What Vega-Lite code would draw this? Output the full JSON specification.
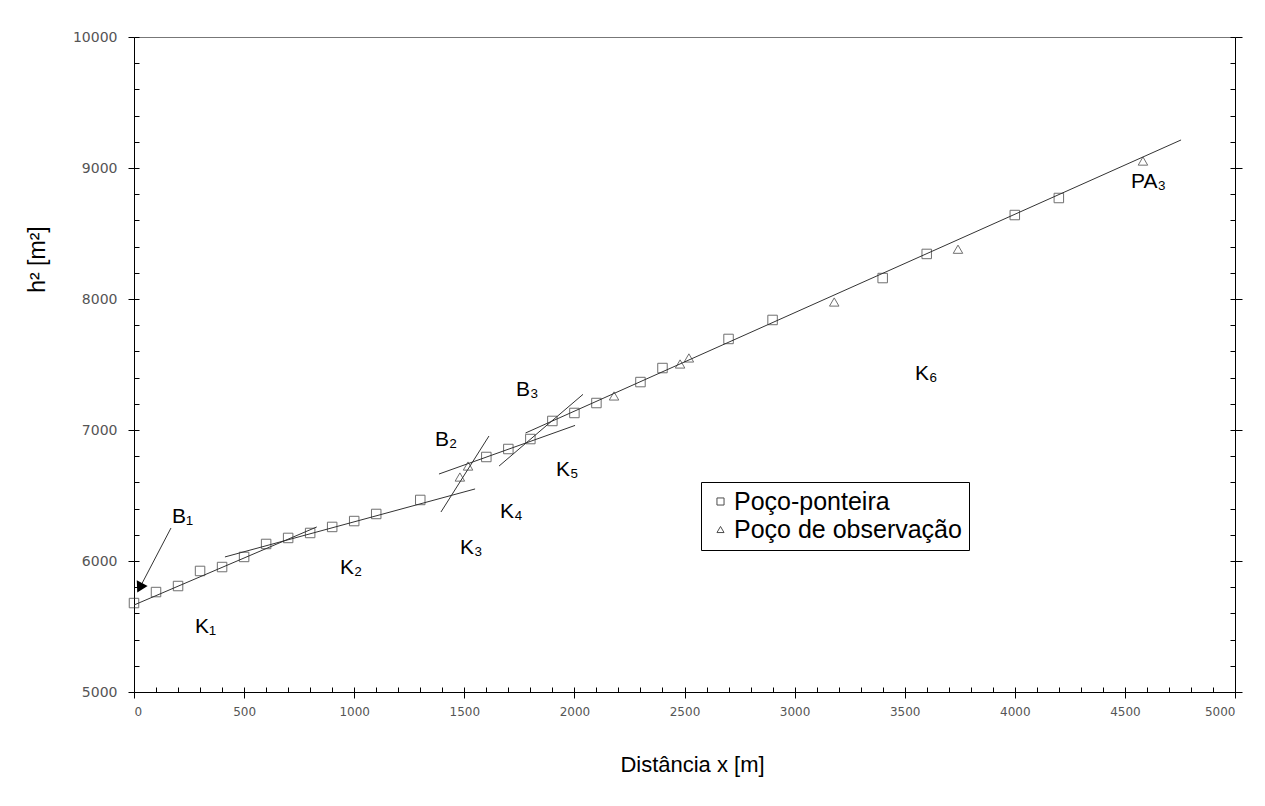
{
  "$schema": "https://vega.github.io/schema/vega-lite/v6.json",
  "width": 1101,
  "height": 655,
  "autosize": {"type": "none"},
  "padding": {"left": 134, "top": 37, "right": 30, "bottom": 114},
  "background": "white",
  "config": {
    "view": {"stroke": null},
    "axis": {"grid": false, "domainColor": "#000", "tickColor": "#000", "labelFont": "DejaVu Sans", "labelColor": "#555", "labelFontSize": 12, "titleFont": "Liberation Sans", "titleFontWeight": "normal", "titleColor": "#000", "format": "d"}
  },
  "datasets": {
    "segs": [
      {"seg": "K1", "x": 0, "y": 5664}, {"seg": "K1", "x": 830, "y": 6260},
      {"seg": "K2", "x": 413, "y": 6031}, {"seg": "K2", "x": 1549, "y": 6550},
      {"seg": "K3", "x": 1394, "y": 6374}, {"seg": "K3", "x": 1612, "y": 6954},
      {"seg": "K4", "x": 1385, "y": 6664}, {"seg": "K4", "x": 2003, "y": 7035},
      {"seg": "B3", "x": 1658, "y": 6725}, {"seg": "B3", "x": 2039, "y": 7272},
      {"seg": "K5", "x": 1778, "y": 6977}, {"seg": "K5", "x": 4755, "y": 9214}
    ],
    "pts": [
      {"tipo": "Poço-ponteira", "x": 0, "y": 5679},
      {"tipo": "Poço-ponteira", "x": 100, "y": 5763},
      {"tipo": "Poço-ponteira", "x": 200, "y": 5809},
      {"tipo": "Poço-ponteira", "x": 300, "y": 5924},
      {"tipo": "Poço-ponteira", "x": 400, "y": 5954},
      {"tipo": "Poço-ponteira", "x": 500, "y": 6031},
      {"tipo": "Poço-ponteira", "x": 600, "y": 6130},
      {"tipo": "Poço-ponteira", "x": 700, "y": 6176},
      {"tipo": "Poço-ponteira", "x": 800, "y": 6214},
      {"tipo": "Poço-ponteira", "x": 900, "y": 6260},
      {"tipo": "Poço-ponteira", "x": 1000, "y": 6305},
      {"tipo": "Poço-ponteira", "x": 1100, "y": 6359},
      {"tipo": "Poço-ponteira", "x": 1300, "y": 6466},
      {"tipo": "Poço-ponteira", "x": 1600, "y": 6794},
      {"tipo": "Poço-ponteira", "x": 1700, "y": 6855},
      {"tipo": "Poço-ponteira", "x": 1800, "y": 6931},
      {"tipo": "Poço-ponteira", "x": 1900, "y": 7069},
      {"tipo": "Poço-ponteira", "x": 2000, "y": 7130},
      {"tipo": "Poço-ponteira", "x": 2100, "y": 7206},
      {"tipo": "Poço-ponteira", "x": 2300, "y": 7366},
      {"tipo": "Poço-ponteira", "x": 2400, "y": 7473},
      {"tipo": "Poço-ponteira", "x": 2700, "y": 7695},
      {"tipo": "Poço-ponteira", "x": 2900, "y": 7840},
      {"tipo": "Poço-ponteira", "x": 3400, "y": 8160},
      {"tipo": "Poço-ponteira", "x": 3600, "y": 8344},
      {"tipo": "Poço-ponteira", "x": 4000, "y": 8641},
      {"tipo": "Poço-ponteira", "x": 4200, "y": 8771},
      {"tipo": "Poço de observação", "x": 1480, "y": 6641},
      {"tipo": "Poço de observação", "x": 1517, "y": 6725},
      {"tipo": "Poço de observação", "x": 2180, "y": 7260},
      {"tipo": "Poço de observação", "x": 2480, "y": 7504},
      {"tipo": "Poço de observação", "x": 2520, "y": 7550},
      {"tipo": "Poço de observação", "x": 3180, "y": 7977},
      {"tipo": "Poço de observação", "x": 3742, "y": 8380},
      {"tipo": "Poço de observação", "x": 4582, "y": 9053}
    ],
    "labels": [
      {"label": "B₁", "x": 173, "y": 6336},
      {"label": "K₁", "x": 277, "y": 5496},
      {"label": "K₂", "x": 935, "y": 5947},
      {"label": "K₃", "x": 1480, "y": 6099},
      {"label": "K₄", "x": 1662, "y": 6374},
      {"label": "K₅", "x": 1916, "y": 6695},
      {"label": "B₂", "x": 1367, "y": 6924},
      {"label": "B₃", "x": 1735, "y": 7305},
      {"label": "K₆", "x": 3547, "y": 7427},
      {"label": "PA₃", "x": 4528, "y": 8893}
    ],
    "arrow": [
      {"x": 168, "y": 6252, "x2": 26, "y2": 5795}
    ]
  },
  "resolve": {
    "scale": {"x": "independent", "y": "independent", "shape": "independent"},
    "axis": {"x": "independent", "y": "independent"}
  },
  "layer": [
    {
      "data": {"name": "segs"},
      "mark": {"type": "line", "color": "#333", "strokeWidth": 1},
      "encoding": {
        "x": {"field": "x", "type": "quantitative", "scale": {"domain": [0, 5000], "nice": false, "zero": false},
          "axis": {"orient": "bottom", "values": [0, 500, 1000, 1500, 2000, 2500, 3000, 3500, 4000, 4500, 5000], "tickSize": 6, "labelPadding": 8, "labelFontSize": 12, "title": "Distância x [m]", "titleFontSize": 22, "titleX": 558, "titleY": 79, "titleAlign": "center", "titleBaseline": "alphabetic"}},
        "y": {"field": "y", "type": "quantitative", "scale": {"domain": [5000, 10000], "nice": false, "zero": false},
          "axis": {"orient": "left", "values": [5000, 6000, 7000, 8000, 9000, 10000], "tickSize": 6, "labelPadding": 11, "labelFontSize": 14, "title": "h² [m²]", "titleFontSize": 23, "titleX": -97, "titleY": 222, "titleAlign": "center", "titleBaseline": "middle", "titleAngle": -90}},
        "detail": {"field": "seg"}
      }
    },
    {
      "data": {"name": "pts"},
      "mark": {"type": "point", "filled": false, "stroke": "#333", "strokeWidth": 1, "size": 90},
      "encoding": {
        "x": {"field": "x", "type": "quantitative", "scale": {"domain": [0, 5000], "nice": false, "zero": false},
          "axis": {"orient": "top", "offset": -655, "values": [0,100,200,300,400,500,600,700,800,900,1000,1100,1200,1300,1400,1500,1600,1700,1800,1900,2000,2100,2200,2300,2400,2500,2600,2700,2800,2900,3000,3100,3200,3300,3400,3500,3600,3700,3800,3900,4000,4100,4200,4300,4400,4500,4600,4700,4800,4900,5000], "tickSize": 5, "labels": false, "domain": false, "title": null}},
        "y": {"field": "y", "type": "quantitative", "scale": {"domain": [5000, 10000], "nice": false, "zero": false},
          "axis": {"orient": "right", "offset": -1101, "values": [5000,5200,5400,5600,5800,6000,6200,6400,6600,6800,7000,7200,7400,7600,7800,8000,8200,8400,8600,8800,9000,9200,9400,9600,9800,10000], "tickSize": 5, "labels": false, "domain": false, "title": null}},
        "shape": {"field": "tipo", "type": "nominal",
          "scale": {"domain": ["Poço-ponteira", "Poço de observação"], "range": ["square", "triangle-up"]},
          "legend": {"orient": "none", "legendX": 567, "legendY": 445, "title": null, "strokeColor": "#000", "padding": 7, "labelFontSize": 25, "labelFont": "Liberation Sans", "labelColor": "#000", "labelLimit": 500, "symbolSize": 50, "symbolStrokeColor": "#000", "symbolStrokeWidth": 1, "symbolFillColor": "transparent", "labelOffset": 1, "rowPadding": 2}}
      }
    },
    {
      "data": {"name": "labels"},
      "mark": {"type": "text", "align": "left", "baseline": "middle", "font": "Liberation Sans", "fontSize": 21, "color": "#000"},
      "encoding": {
        "x": {"field": "x", "type": "quantitative", "scale": {"domain": [0, 5000], "nice": false, "zero": false},
          "axis": {"orient": "top", "ticks": false, "labels": false, "domainColor": "#777", "title": null}},
        "y": {"field": "y", "type": "quantitative", "scale": {"domain": [5000, 10000], "nice": false, "zero": false},
          "axis": {"orient": "right", "values": [5000, 6000, 7000, 8000, 9000, 10000], "tickSize": 7, "labels": false, "title": null}},
        "text": {"field": "label"}
      }
    },
    {
      "data": {"name": "arrow"},
      "mark": {"type": "rule", "color": "#333", "strokeWidth": 1},
      "encoding": {
        "x": {"field": "x", "type": "quantitative", "scale": {"domain": [0, 5000], "nice": false, "zero": false}, "axis": null},
        "x2": {"field": "x2"},
        "y": {"field": "y", "type": "quantitative", "scale": {"domain": [5000, 10000], "nice": false, "zero": false},
          "axis": {"orient": "left", "offset": -1101, "values": [5000,5200,5400,5600,5800,6000,6200,6400,6600,6800,7000,7200,7400,7600,7800,8000,8200,8400,8600,8800,9000,9200,9400,9600,9800,10000], "tickSize": 5, "labels": false, "domain": false, "title": null}},
        "y2": {"field": "y2"}
      }
    },
    {
      "data": {"name": "arrow"},
      "mark": {"type": "point", "shape": "triangle-up", "filled": true, "color": "#000", "size": 150, "angle": 207.6, "opacity": 1},
      "encoding": {
        "x": {"field": "x2", "type": "quantitative", "scale": {"domain": [0, 5000], "nice": false, "zero": false}, "axis": null},
        "y": {"field": "y2", "type": "quantitative", "scale": {"domain": [5000, 10000], "nice": false, "zero": false}, "axis": null}
      }
    }
  ]
}
